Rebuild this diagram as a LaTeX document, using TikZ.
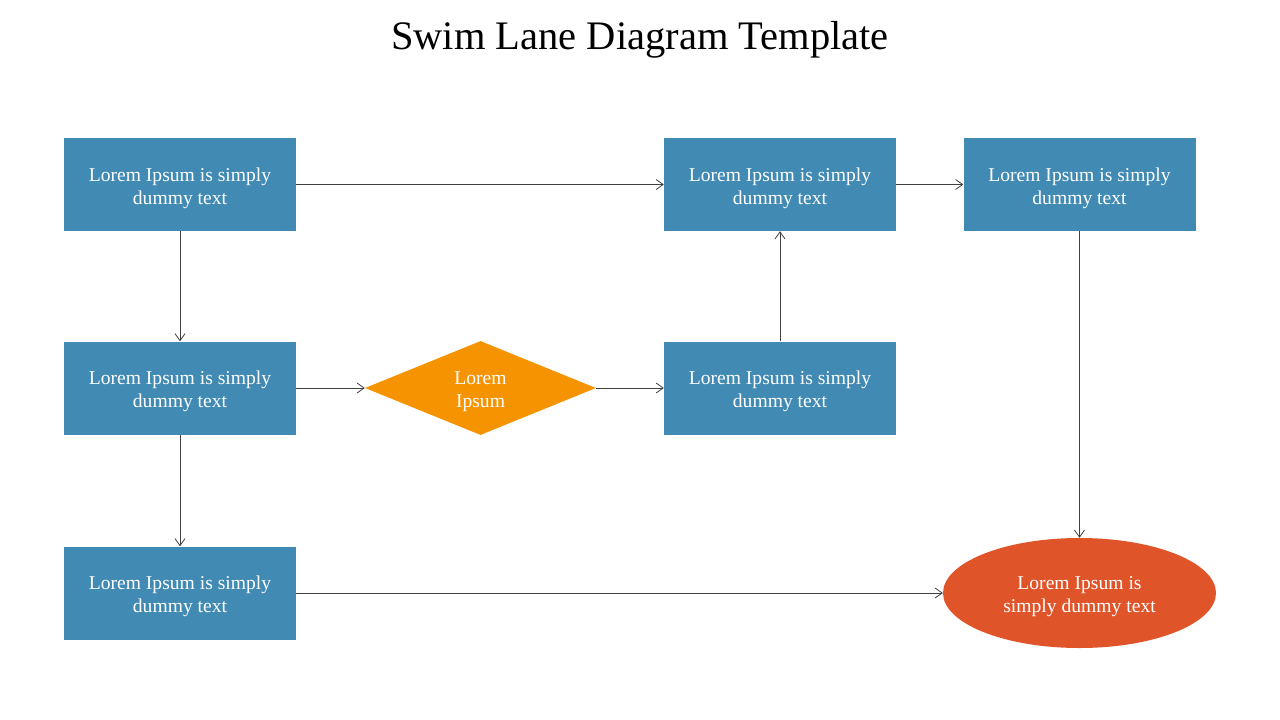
\documentclass[tikz,border=0pt]{standalone}
\usepackage{fontspec}
\setmainfont{Liberation Serif}
\usetikzlibrary{shapes.geometric,arrows.meta}
\definecolor{boxblue}{HTML}{418AB3}
\definecolor{dorange}{HTML}{F59300}
\definecolor{ered}{HTML}{E0542A}
\definecolor{lgray}{HTML}{404040}
\newcommand{\lowst}{\rule{0pt}{20.5pt}}
\begin{document}
\begin{tikzpicture}[x=1pt,y=-1pt,
  bx/.style={rectangle,fill=boxblue,minimum width=232pt,minimum height=93pt,inner sep=0pt,
    text=white,font=\fontsize{19.6}{23}\selectfont,align=center},
  dm/.style={diamond,aspect=2.46,fill=dorange,minimum width=231pt,minimum height=94pt,inner sep=0pt,
    text=white,font=\fontsize{19.6}{23}\selectfont,align=center},
  el/.style={ellipse,fill=ered,minimum width=273pt,minimum height=110pt,inner sep=0pt,
    text=white,font=\fontsize{19.6}{23}\selectfont,align=center},
  con/.style={draw=lgray,line width=0.8pt,-{Straight Barb[length=7pt,width=10pt,line width=0.8pt]}}]
\useasboundingbox (0,0) rectangle (1280,720);
\node[font=\fontsize{40.5}{44}\selectfont] (title) at (640,40) {Swim Lane Diagram Template};
\node[bx] (a) at (180,184.5) {\lowst Lorem Ipsum is simply\\dummy text};
\node[bx] (b) at (180,388) {\lowst Lorem Ipsum is simply\\dummy text};
\node[bx] (c) at (180,593) {\lowst Lorem Ipsum is simply\\dummy text};
\node[bx] (d) at (780,184.5) {\lowst Lorem Ipsum is simply\\dummy text};
\node[bx] (e) at (780,388) {\lowst Lorem Ipsum is simply\\dummy text};
\node[bx] (f) at (1079.5,184.5) {\lowst Lorem Ipsum is simply\\dummy text};
\node[dm] (g) at (480.5,388) {\lowst Lorem\\Ipsum};
\node[el] (h) at (1079.5,593) {\lowst Lorem Ipsum is\\simply dummy text};
\draw[con] (a) -- (d);
\draw[con] (d) -- (f);
\draw[con] (a) -- (b);
\draw[con] (b) -- (c);
\draw[con] (b) -- (g);
\draw[con] (g) -- (e);
\draw[con] (e) -- (d);
\draw[con] (c) -- (h);
\draw[con] (f) -- (h);
\end{tikzpicture}
\end{document}
